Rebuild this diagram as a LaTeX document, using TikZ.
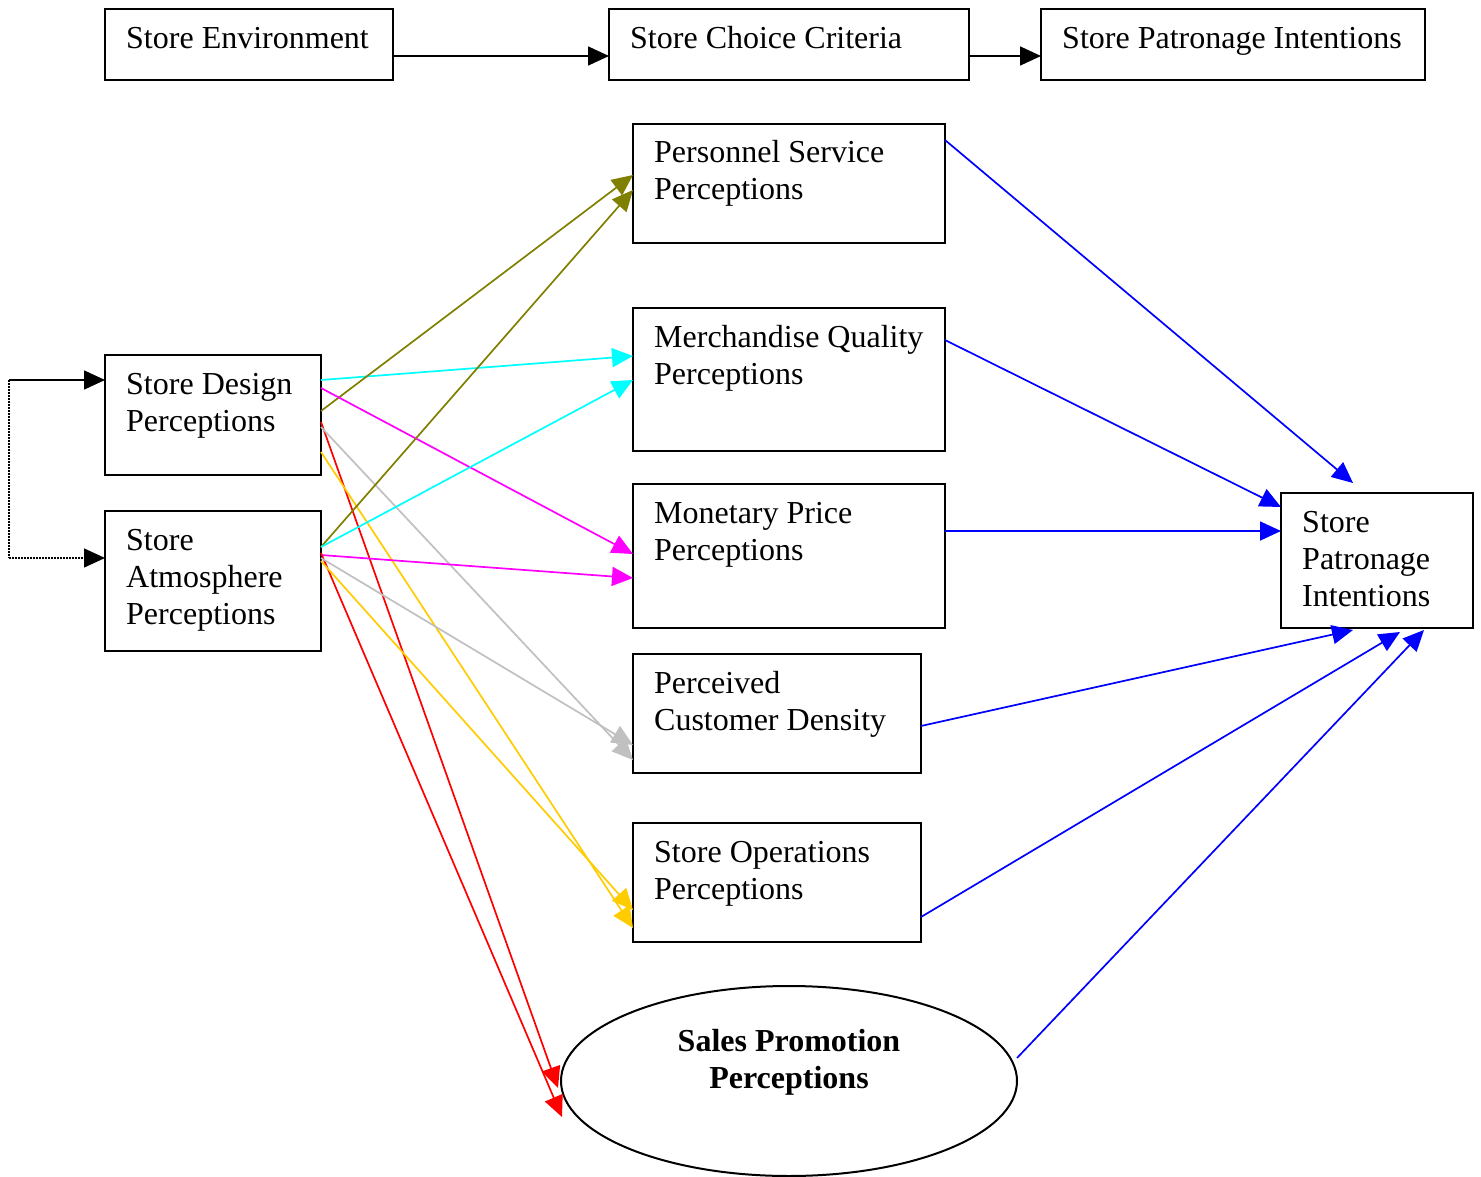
\documentclass[tikz,border=0pt]{standalone}
\usepackage{fontspec}
\setmainfont{Liberation Serif}
\usetikzlibrary{arrows.meta,calc,shapes.geometric}
\definecolor{olv}{RGB}{128,128,0}
\definecolor{cya}{RGB}{0,255,255}
\definecolor{mag}{RGB}{255,0,255}
\definecolor{rd}{RGB}{255,0,0}
\definecolor{gry}{RGB}{192,192,192}
\definecolor{gld}{RGB}{255,204,0}
\definecolor{blu}{RGB}{0,0,255}
\begin{document}
\begin{tikzpicture}[x=1pt,y=-1pt,
  box/.style={draw,line width=2pt,anchor=north west,inner sep=0pt,outer sep=0pt},
  lbl/.style={anchor=base west,inner sep=0pt,align=left,font=\fontsize{32}{37}\selectfont},
  conn/.style={line width=1.7pt,-{Triangle[length=21pt,width=19pt]}},
]
\useasboundingbox (0,0) rectangle (1481,1177);
% top row
\node[box,minimum width=288pt,minimum height=71pt] (se) at (105,9) {};
\node[box,minimum width=360pt,minimum height=71pt] (scc) at (609,9) {};
\node[box,minimum width=384pt,minimum height=71pt] (spi) at (1041,9) {};
\node[lbl] (set) at ($(se.north west)+(21,40)$) {Store Environment};
\node[lbl] (scct) at ($(scc.north west)+(21,40)$) {Store Choice Criteria};
\node[lbl] (spit) at ($(spi.north west)+(21,40)$) {Store Patronage Intentions};
% middle column
\node[box,minimum width=312pt,minimum height=119pt] (ps) at (633,124) {};
\node[box,minimum width=312pt,minimum height=143pt] (mq) at (633,308) {};
\node[box,minimum width=312pt,minimum height=144pt] (mp) at (633,484) {};
\node[box,minimum width=288pt,minimum height=119pt] (pcd) at (633,654) {};
\node[box,minimum width=288pt,minimum height=119pt] (so) at (633,823) {};
\node[draw,ellipse,line width=2pt,minimum width=456pt,minimum height=190pt,inner sep=0pt,outer sep=0pt] (spp) at (789,1081) {};
% (base anchor = baseline of the last line)
\node[lbl] (pst) at ($(ps.north west)+(21,76)$) {Personnel Service\\Perceptions};
\node[lbl] (mqt) at ($(mq.north west)+(21,76)$) {Merchandise Quality\\Perceptions};
\node[lbl] (mpt) at ($(mp.north west)+(21,76)$) {Monetary Price\\Perceptions};
\node[lbl] (pcdt) at ($(pcd.north west)+(21,76)$) {Perceived\\Customer Density};
\node[lbl] (sot) at ($(so.north west)+(21,76)$) {Store Operations\\Perceptions};
\node[anchor=base,inner sep=0pt,align=center,font=\bfseries\fontsize{32}{37}\selectfont] (sppt) at (789,1088) {Sales Promotion\\Perceptions};
% left column
\node[box,minimum width=216pt,minimum height=120pt] (sd) at (105,355) {};
\node[box,minimum width=216pt,minimum height=140pt] (sa) at (105,511) {};
\node[lbl] (sdt) at ($(sd.north west)+(21,76)$) {Store Design\\Perceptions};
\node[lbl] (sat) at ($(sa.north west)+(21,113)$) {Store\\Atmosphere\\Perceptions};
% right box
\node[box,minimum width=192pt,minimum height=135pt] (rb) at (1281,493) {};
\node[lbl] (rbt) at ($(rb.north west)+(21,113)$) {Store\\Patronage\\Intentions};
% top arrows
\draw[conn,black] ($(se.north east)+(0,47)$) -- ($(scc.north west)+(0,47)$);
\draw[conn,black] ($(scc.north east)+(0,47)$) -- ($(spi.north west)+(0,47)$);
% feedback loop
\coordinate (fb1) at (9,380);
\coordinate (fb2) at (9,558);
\draw[conn,black] (fb1) -- ($(sd.north west)+(0,25)$);
\draw[line width=1.3pt,dash pattern=on 1.5pt off 1.5pt] (fb1) -- (fb2);
\draw[line width=1.3pt,dash pattern=on 1.5pt off 1.5pt,-{Triangle[length=21pt,width=19pt]}] (fb2) -- ($(sa.north west)+(0,47)$);
% from store design
\draw[conn,cya] ($(sd.north east)+(0,25)$) -- ($(mq.north west)+(0,48)$);
\draw[conn,olv] ($(sd.north east)+(0,56)$) -- ($(ps.north west)+(0,51)$);
\draw[conn,mag] ($(sd.north east)+(0,33)$) -- ($(mp.north west)+(0,70)$);
\draw[conn,rd] ($(sd.north east)+(0,67)$) -- ($(spp.west)+(-3,7)$);
\draw[conn,gry] ($(sd.north east)+(0,72)$) -- ($(pcd.north west)+(0,106)$);
\draw[conn,gld] ($(sd.north east)+(0,97)$) -- ($(so.north west)+(0,105)$);
% from store atmosphere
\draw[conn,olv] ($(sa.north east)+(0,36)$) -- ($(ps.north west)+(0,66)$);
\draw[conn,cya] ($(sa.north east)+(0,36)$) -- ($(mq.north west)+(0,72)$);
\draw[conn,mag] ($(sa.north east)+(0,44)$) -- ($(mp.north west)+(0,94)$);
\draw[conn,rd] ($(sa.north east)+(0,42)$) -- ($(spp.west)+(1,36)$);
\draw[conn,gry] ($(sa.north east)+(0,47)$) -- ($(pcd.north west)+(0,91)$);
\draw[conn,gld] ($(sa.north east)+(0,50)$) -- ($(so.north west)+(0,87)$);
% to store patronage intentions
\draw[conn,blu] ($(ps.north east)+(0,16)$) -- ($(rb.north west)+(72,-10)$);
\draw[conn,blu] ($(mq.north east)+(0,32)$) -- ($(rb.north west)+(0,14)$);
\draw[conn,blu] ($(mp.north east)+(0,47)$) -- ($(rb.north west)+(0,38)$);
\draw[conn,blu] ($(pcd.north east)+(0,72)$) -- ($(rb.south west)+(72,2)$);
\draw[conn,blu] ($(so.north east)+(0,94)$) -- ($(rb.south west)+(119,4)$);
\draw[conn,blu] ($(spp.east)+(0,-23)$) -- ($(rb.south west)+(143,2)$);
\end{tikzpicture}
\end{document}
